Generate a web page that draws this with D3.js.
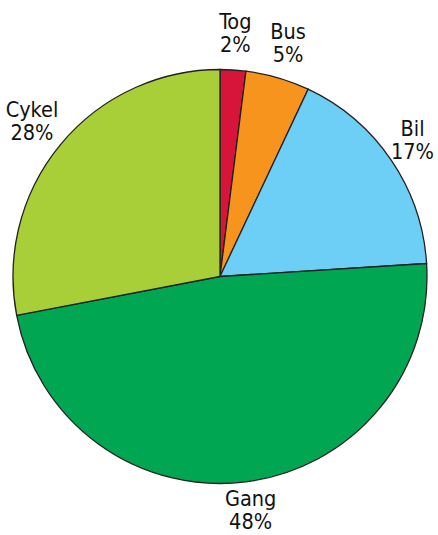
<!DOCTYPE html>
<html>
<head>
<meta charset="utf-8">
<script src="https://cdn.jsdelivr.net/npm/d3@7"></script>
<style>
  body { margin: 0; background: #fff; }
  text { font-family: "DejaVu Sans Condensed", "Liberation Sans Narrow", sans-serif; font-size: 21.5px; fill: #111; }
</style>
</head>
<body>
<div id="chart"></div>
<script>
// Transport share data
var categories = ["Tog", "Bus", "Bil", "Gang", "Cykel"];
var shares = [2, 5, 17, 48, 28];
var colors = ["#d7143a", "#f7941d", "#6dcff6", "#00a651", "#a9cf38"];

var svgWidth = 438;
var svgHeight = 535;
var cx = 220, cy = 276.5;
var radius = 207;
var labelRadius = 244;
var edgePad = 4;

var svg = d3.select("#chart")
  .append("svg")
  .attr("width", svgWidth)
  .attr("height", svgHeight);

var g = svg.append("g")
  .attr("transform", `translate(${cx}, ${cy})`);

var data = categories.map((c, i) => ({ name: c, value: shares[i], color: colors[i] }));

var pie = d3.pie()
  .sort(null)
  .value(d => d.value);

var arc = d3.arc().innerRadius(0).outerRadius(radius);
var labelArc = d3.arc().innerRadius(labelRadius).outerRadius(labelRadius);

var arcs = pie(data);

g.selectAll("path")
  .data(arcs)
  .enter()
  .append("path")
  .attr("d", arc)
  .attr("fill", d => d.data.color)
  .attr("stroke", "#222")
  .attr("stroke-width", 1.3);

// labels: name on first line, percent on second, block centred on the label arc
var labels = g.selectAll(".label")
  .data(arcs)
  .enter()
  .append("text")
  .attr("class", "label")
  .attr("text-anchor", "middle");

labels.append("tspan")
  .attr("x", 0)
  .attr("y", -3.5)
  .text(d => d.data.name);

labels.append("tspan")
  .attr("x", 0)
  .attr("y", 19.5)
  .text(d => d.data.value + "%");

// keep each label block inside the picture
labels.each(function(d) {
  var p = labelArc.centroid(d);
  var box = this.getBBox();
  var x = cx + p[0], y = cy + p[1];
  var halfW = box.width / 2;
  x = Math.min(Math.max(x, halfW + edgePad), svgWidth - halfW - edgePad);
  var bottom = y + 19.5 + 2;
  if (bottom > svgHeight - edgePad) y -= bottom - (svgHeight - edgePad);
  d3.select(this).attr("transform", `translate(${x - cx}, ${y - cy})`);
});
</script>
</body>
</html>
